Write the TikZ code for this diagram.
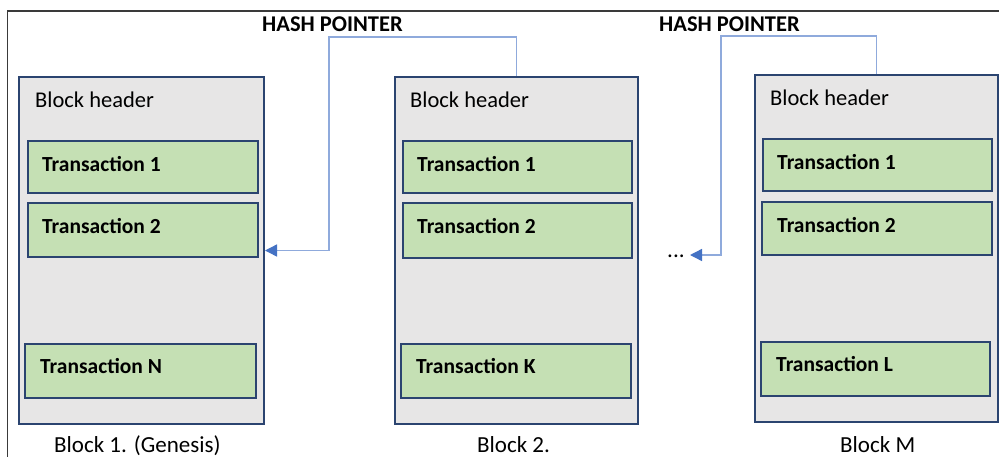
\documentclass[tikz,border=0pt]{standalone}
\usepackage{fontspec}
\setmainfont{Carlito}
\usetikzlibrary{arrows.meta}
\definecolor{blockfill}{HTML}{E7E6E6}
\definecolor{navy}{HTML}{2B4470}
\definecolor{txfill}{HTML}{C5E0B4}
\definecolor{ptrline}{HTML}{8FAADC}
\definecolor{ptrtip}{HTML}{4472C4}
\definecolor{framec}{HTML}{3A3A3A}
\tikzset{
  blockbox/.style={draw=navy, line width=2pt, fill=blockfill, anchor=north west, inner sep=0pt, minimum width=243pt, minimum height=347pt},
  txbox/.style={draw=navy, line width=2pt, fill=txfill, anchor=north west, inner sep=0pt, minimum width=230pt, minimum height=53pt},
  txlabel/.style={anchor=base west, inner sep=0pt, font=\fontsize{21.5}{24}\selectfont\bfseries},
  hdrlabel/.style={anchor=base west, inner sep=0pt, font=\fontsize{22.5}{25}\selectfont},
  caplabel/.style={anchor=base west, inner sep=0pt, font=\fontsize{23}{26}\selectfont},
  hashlabel/.style={anchor=base west, inner sep=0pt, font=\fontsize{22.5}{25}\selectfont\bfseries},
  ptr/.style={draw=ptrline, line width=1.4pt, -{Triangle[length=12pt,width=12pt,color=ptrtip]}},
}
\begin{document}
\begin{tikzpicture}[x=1pt,y=-1pt]
\clip (0,0) rectangle (999,456);
\fill[white] (0,0) rectangle (999,456);
\draw[framec, line width=1.5pt] (7.5,480) -- (7.5,11) -- (1020,11);

% blocks
\node[blockbox, minimum width=245pt] (b1) at (18,76) {};
\node[blockbox] (b2) at (394,76) {};
\node[blockbox] (bm) at (754,74) {};

% block 1 transactions
\node[txbox, minimum height=52pt] (b1t1) at (27,140) {};
\node[txbox, minimum height=54pt] (b1t2) at (27,202) {};
\node[txbox, minimum width=231pt, minimum height=54pt] (b1tn) at (24,343) {};
% block 2 transactions
\node[txbox, minimum width=229pt, minimum height=52pt] (b2t1) at (402,140) {};
\node[txbox, minimum width=229pt, minimum height=55pt] (b2t2) at (402,202) {};
\node[txbox, minimum height=54pt] (b2tk) at (400,343) {};
% block M transactions
\node[txbox, minimum width=229pt, minimum height=52pt] (bmt1) at (762,138) {};
\node[txbox, minimum height=53pt] (bmt2) at (761,201) {};
\node[txbox, minimum width=229pt, minimum height=54pt] (bmtl) at (760,341) {};

% headers
\node[hdrlabel] (h1) at (35,107) {Block header};
\node[hdrlabel] (h2) at (410,107) {Block header};
\node[hdrlabel] (hm) at (770,105) {Block header};

% transaction labels
\node[txlabel] (l11) at (42,171) {Transaction 1};
\node[txlabel] (l12) at (42,233) {Transaction 2};
\node[txlabel] (l1n) at (40,373) {Transaction N};
\node[txlabel] (l21) at (417,171) {Transaction 1};
\node[txlabel] (l22) at (417,233) {Transaction 2};
\node[txlabel] (l2k) at (416,373) {Transaction K};
\node[txlabel] (lm1) at (777,169) {Transaction 1};
\node[txlabel] (lm2) at (777,232) {Transaction 2};
\node[txlabel] (lml) at (776,371) {Transaction L};

% captions
\node[caplabel] (c1) at (54,452) {Block 1. (Genesis)};
\node[caplabel] (c2) at (477,452) {Block 2.};
\node[caplabel] (cm) at (840,452) {Block M};

% hash pointer labels
\node[hashlabel] (hp1) at (262,31) {HASH POINTER};
\node[hashlabel] (hp2) at (659,31) {HASH POINTER};

% dots
\node[caplabel] (dots) at (667,257) {...};

% pointers
\coordinate (k1) at (329,37);
\coordinate (k2) at (721,36);
\coordinate (tip2) at (690,255);
\draw[ptr] (b2.north) -- (b2.north |- k1) -- (k1) |- (b1.east);
\draw[ptr] (bm.north) -- (bm.north |- k2) -- (k2) |- (tip2);
\end{tikzpicture}
\end{document}
